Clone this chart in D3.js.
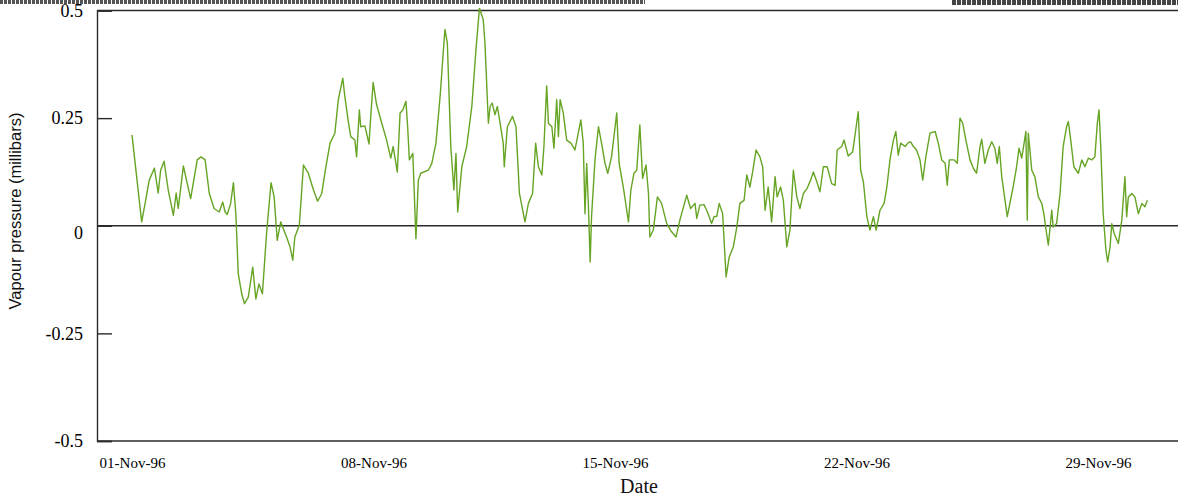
<!DOCTYPE html>
<html>
<head>
<meta charset="utf-8">
<style>
  body { margin: 0; background: #fff; }
  .tick text { font-family: "Liberation Serif", "Times New Roman", serif; fill: #000; }
  .frame { stroke: #2a2a2a; stroke-width: 1.4px; fill: none; }
</style>
</head>
<body>
<svg id="chart" width="1178" height="499"></svg>

<script src="https://d3js.org/d3.v7.min.js"></script>
<script>
  // days since 01-Nov-96 00:00
  const dayOffset = [
    0.00, 0.28, 0.38, 0.50, 0.65, 0.76, 0.83, 0.93, 1.05, 1.20, 1.28, 1.34, 1.49, 1.59, 1.70, 1.89,
    2.00, 2.12, 2.24, 2.38, 2.53, 2.63, 2.70, 2.76, 2.86, 2.94, 3.01, 3.08, 3.18, 3.26, 3.37, 3.50,
    3.59, 3.68, 3.78, 3.90, 4.03, 4.12, 4.21, 4.31, 4.48, 4.58, 4.66, 4.72, 4.85, 4.97, 5.11, 5.26,
    5.38, 5.50, 5.62, 5.74, 5.88, 5.98, 6.11, 6.17, 6.27, 6.34, 6.46, 6.51, 6.59, 6.63, 6.75, 6.87,
    6.92, 6.99, 7.09, 7.24, 7.38, 7.50, 7.57, 7.69, 7.77, 7.85, 7.94, 7.99, 8.04, 8.14, 8.23, 8.30,
    8.37, 8.59, 8.69, 8.81, 8.93, 9.07, 9.14, 9.24, 9.33, 9.39, 9.44, 9.56, 9.70, 9.85, 9.97, 10.07,
    10.18, 10.23, 10.33, 10.38, 10.44, 10.52, 10.59, 10.67, 10.76, 10.79, 10.88, 11.03, 11.13, 11.23,
    11.39, 11.49, 11.61, 11.70, 11.78, 11.88, 11.94, 12.02, 12.07, 12.17, 12.23, 12.31, 12.36, 12.41,
    12.50, 12.60, 12.72, 12.84, 13.01, 13.08, 13.13, 13.18, 13.23, 13.28, 13.32, 13.42, 13.52, 13.61,
    13.71, 13.79, 13.90, 14.05, 14.12, 14.24, 14.39, 14.46, 14.55, 14.63, 14.72, 14.80, 14.90, 14.97,
    15.01, 15.11, 15.23, 15.35, 15.50, 15.64, 15.77, 15.88, 16.08, 16.19, 16.32, 16.37, 16.46, 16.58,
    16.68, 16.80, 16.87, 16.95, 17.02, 17.12, 17.22, 17.31, 17.43, 17.53, 17.62, 17.74, 17.82, 17.91,
    17.99, 18.09, 18.20, 18.28, 18.35, 18.44, 18.54, 18.64, 18.70, 18.80, 18.88, 18.98, 19.07, 19.17,
    19.27, 19.36, 19.46, 19.57, 19.67, 19.75, 19.85, 19.94, 20.04, 20.15, 20.28, 20.38, 20.44, 20.57,
    20.64, 20.76, 20.89, 20.99, 21.05, 21.12, 21.20, 21.30, 21.39, 21.49, 21.57, 21.68, 21.80, 21.88,
    21.97, 22.07, 22.14, 22.21, 22.28, 22.41, 22.50, 22.57, 22.65, 22.74, 22.84, 22.92, 23.01, 23.13,
    23.28, 23.37, 23.47, 23.57, 23.63, 23.69, 23.83, 23.92, 24.00, 24.08, 24.17, 24.29, 24.39, 24.48,
    24.58, 24.63, 24.72, 24.82, 24.92, 25.01, 25.08, 25.14, 25.21, 25.37, 25.54, 25.64, 25.71, 25.79,
    25.91, 25.95, 25.98, 26.08, 26.17, 26.27, 26.37, 26.43, 26.51, 26.56, 26.66, 26.70, 26.80, 26.90,
    26.99, 27.09, 27.14, 27.21, 27.30, 27.43, 27.53, 27.62, 27.72, 27.82, 27.91, 27.98, 28.03, 28.08,
    28.15, 28.23, 28.28, 28.35, 28.40, 28.47, 28.59, 28.69, 28.78, 28.83, 28.88, 28.98, 29.07, 29.17,
    29.27, 29.36, 29.43
  ];

  // vapour pressure (millibars)
  const vapourPressure = [
    0.211, 0.009, 0.052, 0.106, 0.134, 0.076, 0.129, 0.150, 0.083, 0.024, 0.076, 0.040, 0.139, 0.102, 0.063, 0.153,
    0.160, 0.153, 0.075, 0.040, 0.032, 0.055, 0.032, 0.026, 0.052, 0.100, 0.028, -0.111, -0.158, -0.181, -0.166, -0.096,
    -0.170, -0.135, -0.158, -0.018, 0.100, 0.067, -0.034, 0.009, -0.026, -0.049, -0.080, -0.026, 0.001, 0.141, 0.122, 0.083,
    0.057, 0.075, 0.137, 0.192, 0.215, 0.293, 0.343, 0.300, 0.242, 0.207, 0.199, 0.160, 0.269, 0.230, 0.232, 0.190,
    0.254, 0.333, 0.281, 0.238, 0.199, 0.157, 0.184, 0.125, 0.262, 0.269, 0.289, 0.230, 0.153, 0.168, -0.030, 0.106,
    0.122, 0.129, 0.145, 0.192, 0.300, 0.456, 0.425, 0.184, 0.083, 0.168, 0.032, 0.137, 0.184, 0.277, 0.409, 0.505,
    0.479, 0.425, 0.238, 0.277, 0.285, 0.258, 0.277, 0.238, 0.192, 0.137, 0.230, 0.254, 0.230, 0.075,
    0.009, 0.052, 0.075, 0.192, 0.137, 0.118, 0.184, 0.325, 0.238, 0.230, 0.180, 0.293, 0.207, 0.293,
    0.262, 0.199, 0.192, 0.176, 0.246, 0.192, 0.028, 0.145, 0.044, -0.084, 0.021, 0.153, 0.230, 0.192,
    0.145, 0.122, 0.160, 0.262, 0.145, 0.090, 0.009, 0.083, 0.122, 0.129, 0.234, 0.110, 0.141, 0.075,
    -0.026, -0.010, 0.067, 0.052, 0.005, -0.014, -0.026, 0.013, 0.071, 0.040, 0.052, 0.017, 0.048, 0.049,
    0.032, 0.005, 0.021, 0.022, 0.052, 0.028, -0.119, -0.073, -0.049, -0.003, 0.052, 0.059, 0.118, 0.090,
    0.125, 0.176, 0.160, 0.137, 0.036, 0.090, 0.009, 0.114, 0.067, 0.090, 0.059, -0.049, -0.010, 0.129,
    0.067, 0.040, 0.075, 0.087, 0.106, 0.125, 0.102, 0.079, 0.137, 0.137, 0.098, 0.094, 0.176, 0.184,
    0.199, 0.162, 0.172, 0.230, 0.265, 0.129, 0.102, 0.021, -0.010, 0.021, -0.010, 0.036, 0.052, 0.090,
    0.153, 0.199, 0.219, 0.164, 0.192, 0.184, 0.193, 0.195, 0.184, 0.176, 0.153, 0.106, 0.160, 0.215,
    0.219, 0.192, 0.153, 0.145, 0.094, 0.153, 0.153, 0.145, 0.250, 0.238, 0.199, 0.153, 0.133, 0.122,
    0.184, 0.201, 0.145, 0.176, 0.195, 0.180, 0.145, 0.184, 0.114, 0.021, 0.090, 0.137, 0.180, 0.157,
    0.219, 0.013, 0.215, 0.129, 0.114, 0.067, 0.052, 0.028, -0.018, -0.045, 0.036, -0.003, 0.005, 0.075,
    0.184, 0.230, 0.242, 0.199, 0.137, 0.122, 0.153, 0.137, 0.157, 0.153, 0.160, 0.238, 0.269, 0.184,
    0.028, -0.057, -0.084, -0.049, 0.005, -0.018, -0.041, 0.013, 0.114, 0.021, 0.067, 0.075, 0.067, 0.028,
    0.052, 0.044, 0.059
  ];

  const xTickDates = ["1996-11-01", "1996-11-08", "1996-11-15", "1996-11-22", "1996-11-29"];
  const yTicks = [-0.5, -0.25, 0, 0.25, 0.5];

  const svg = d3.select("#chart");
  const width = 1178;
  const plotLeft = 97, plotRight = 1178, plotTop = 10.5, plotBottom = 441;

  const start = Date.UTC(1996, 10, 1);
  const data = dayOffset.map((d, i) => ({ date: new Date(start + d * 864e5), value: vapourPressure[i] }));

  const x = d3.scaleUtc()
    .domain([new Date(start), new Date(Date.UTC(1996, 11, 1))])
    .range([132, 132 + 30 * 34.5]);

  const y = d3.scaleLinear()
    .domain([-0.5, 0.5])
    .range([plotBottom, plotTop]);

  // scanned strip along the top edge
  svg.append("line")
    .attr("x1", 0).attr("x2", 645).attr("y1", 2).attr("y2", 2)
    .attr("stroke", "#555").attr("stroke-width", 4).attr("stroke-dasharray", "3,1");
  svg.append("line")
    .attr("x1", 952).attr("x2", width).attr("y1", 2.5).attr("y2", 2.5)
    .attr("stroke", "#444").attr("stroke-width", 5).attr("stroke-dasharray", "4,1");

  // frame lines
  svg.append("line").attr("class", "frame")
    .attr("x1", plotLeft).attr("x2", plotRight).attr("y1", plotTop).attr("y2", plotTop);
  svg.append("line").attr("class", "frame")
    .attr("x1", plotLeft).attr("x2", plotRight).attr("y1", plotBottom).attr("y2", plotBottom);
  svg.append("line").attr("class", "frame")
    .attr("x1", plotLeft).attr("x2", plotRight).attr("y1", y(0)).attr("y2", y(0));

  const yAxis = svg.append("g")
    .attr("transform", `translate(${plotLeft},0)`)
    .call(d3.axisLeft(y)
      .tickValues(yTicks)
      .tickSize(-15)
      .tickPadding(14)
      .tickFormat(d => String(d)));
  yAxis.select(".domain").attr("stroke", "#2a2a2a").attr("stroke-width", 1.4);
  yAxis.selectAll(".tick line").attr("stroke", "#2a2a2a").attr("stroke-width", 1.4);
  yAxis.selectAll(".tick text").attr("font-size", 18);
  // the "0" sits a little low in the original
  yAxis.selectAll(".tick text").filter(d => d === 0).attr("dy", "0.32em").attr("y", 7);

  const xAxis = svg.append("g")
    .attr("transform", `translate(0,${plotBottom})`)
    .call(d3.axisBottom(x)
      .tickValues(xTickDates.map(s => new Date(s + "T00:00:00Z")))
      .tickSize(0)
      .tickPadding(16)
      .tickFormat(d3.utcFormat("%d-%b-%y")));
  xAxis.select(".domain").remove();
  xAxis.selectAll(".tick text").attr("font-size", 15);

  const line = d3.line()
    .x(d => x(d.date))
    .y(d => y(d.value));

  svg.append("path")
    .datum(data)
    .attr("fill", "none")
    .attr("stroke", "#66a424")
    .attr("stroke-width", 1.4)
    .attr("stroke-linejoin", "round")
    .attr("d", line);

  svg.append("text")
    .attr("x", 639)
    .attr("y", 493)
    .attr("text-anchor", "middle")
    .attr("font-family", "Liberation Serif, Times New Roman, serif")
    .attr("font-size", 20)
    .attr("fill", "#111")
    .text("Date");

  svg.append("text")
    .attr("transform", "translate(21,211) rotate(-90)")
    .attr("text-anchor", "middle")
    .attr("font-family", "Liberation Sans, Arial, sans-serif")
    .attr("font-size", 16.5)
    .attr("fill", "#111")
    .text("Vapour pressure (millibars)");
</script>
</body>
</html>
